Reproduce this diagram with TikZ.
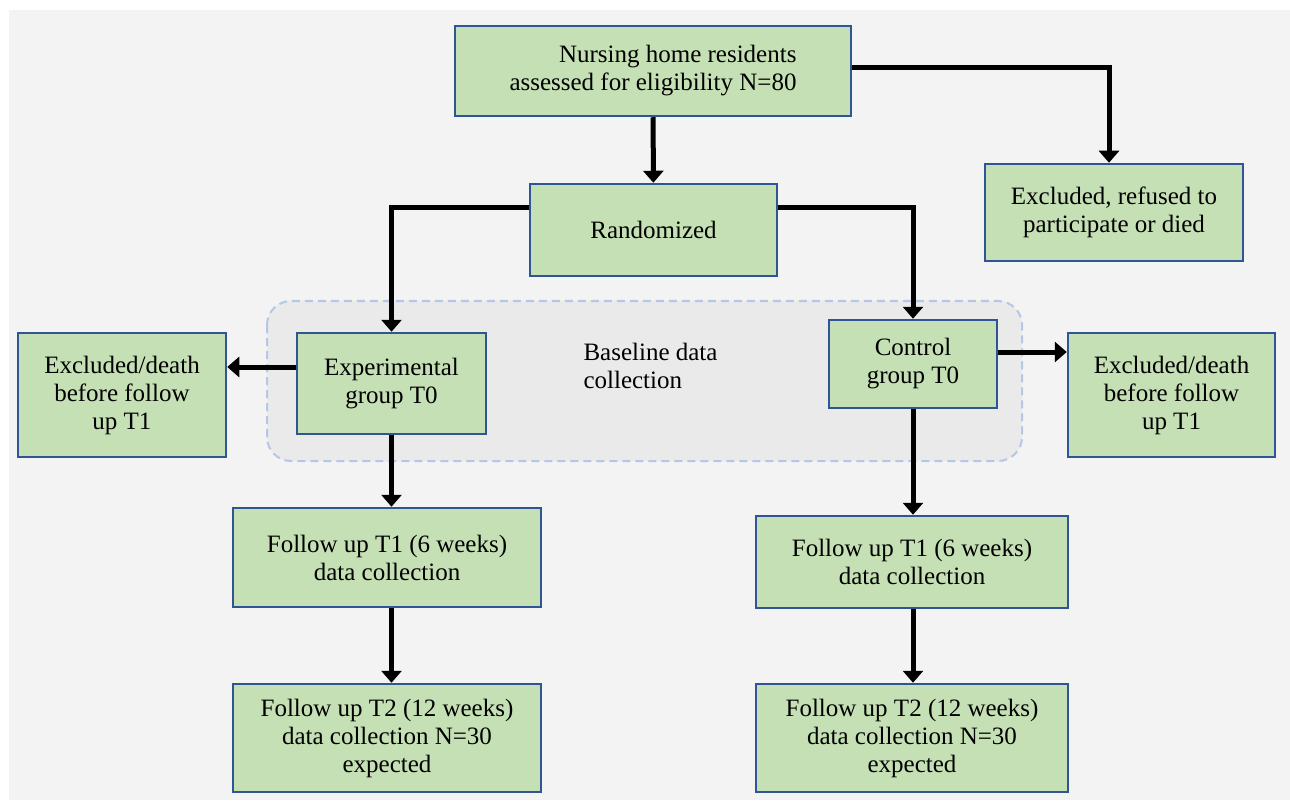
\documentclass[tikz,border=0pt]{standalone}
\usepackage{fontspec}
\setmainfont{LiberationSerif}[Extension=.ttf, UprightFont=*-Regular, BoldFont=*-Bold]
\usetikzlibrary{arrows.meta,positioning}
\definecolor{boxgreen}{HTML}{C5E0B4}
\definecolor{boxblue}{HTML}{2F5597}
\definecolor{panelgray}{HTML}{F3F3F3}
\definecolor{phasegray}{HTML}{EAEAEA}
\definecolor{phaseblue}{HTML}{B4C7E7}

\begin{document}
\begin{tikzpicture}[
    x=1pt, y=-1pt,
    box/.style={rectangle, draw=boxblue, fill=boxgreen, line width=2.5pt, align=center, inner sep=0pt, font=\fontsize{25}{28}\selectfont},
    arrow/.style={-{Triangle[width=20pt,length=12pt]}, line width=5pt}
]
\useasboundingbox (0,0) rectangle (1290,802);
\fill[panelgray] (9,10) rectangle (1290,800);

% baseline phase
\draw[phaseblue, fill=phasegray, line width=2pt, rounded corners=24pt, dash pattern=on 8pt off 5pt] (267,301) rectangle (1022,461);
\node[anchor=west, align=left, font=\fontsize{25}{28}\selectfont] (baseline) at (580,366) {Baseline data\\collection};

\node[box, align=right, minimum width=396pt, minimum height=90pt] (assess) at (653,71) {Nursing home residents\\assessed for eligibility N=80};
\node[box, minimum width=247pt, minimum height=92pt] (random) at (653.5,230) {Randomized};
\node[box, minimum width=258pt, minimum height=97pt] (refused) at (1114,212.5) {Excluded, refused to\\participate or died};
\node[box, minimum width=189pt, minimum height=101pt] (exp) at (391.5,383.5) {Experimental\\group T0};
\node[box, minimum width=168pt, minimum height=88pt] (ctl) at (913,364) {Control\\group T0};
\node[box, minimum width=208pt, minimum height=124pt] (exclexp) at (122,395) {Excluded/death\\before follow\\up T1};
\node[box, minimum width=207pt, minimum height=124pt] (exclctl) at (1171.5,395) {Excluded/death\\before follow\\up T1};
\node[box, minimum width=308pt, minimum height=99pt] (expfu1) at (387,557.5) {Follow up T1 (6 weeks)\\data collection};
\node[box, minimum width=312pt, minimum height=92pt] (ctlfu1) at (912,562) {Follow up T1 (6 weeks)\\data collection};
\node[box, minimum width=308pt, minimum height=108pt] (expfu2) at (387,738) {Follow up T2 (12 weeks)\\data collection N=30\\expected};
\node[box, minimum width=312pt, minimum height=108pt] (ctlfu2) at (912,738) {Follow up T2 (12 weeks)\\data collection N=30\\expected};

\draw[arrow] (assess) -- (random);
\draw[arrow] ([yshift=3pt]assess.east) -| ([xshift=-5pt]refused.north);
\draw[arrow] ([yshift=22pt]random.west) -| (exp.north);
\draw[arrow] ([yshift=22pt]random.east) -| (ctl.north);
\draw[arrow] ([yshift=16.5pt]exp.west) -- ([yshift=16.5pt]exp.west -| exclexp.east);
\draw[arrow] ([yshift=12pt]ctl.east) -- ([yshift=12pt]ctl.east -| exclctl.west);
\draw[arrow] (exp.south) -- (exp.south |- expfu1.north);
\draw[arrow] (ctl.south) -- (ctl.south |- ctlfu1.north);
\draw[arrow] (exp.south |- expfu1.south) -- (exp.south |- expfu2.north);
\draw[arrow] (ctl.south |- ctlfu1.south) -- (ctl.south |- ctlfu2.north);
\end{tikzpicture}
\end{document}
